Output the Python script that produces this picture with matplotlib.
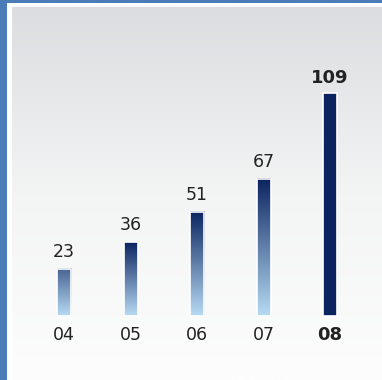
import matplotlib.pyplot as plt
import matplotlib.colors as mcolors
from matplotlib.patches import Rectangle
import numpy as np

years = ['04', '05', '06', '07', '08']
values = [23, 36, 51, 67, 109]
highlight = [False, False, False, False, True]

W, H = 382, 380
navy = mcolors.to_rgb('#0b2460')
light = mcolors.to_rgb('#b8dbf4')


def main():
    fig = plt.figure(figsize=(W / 100, H / 100), dpi=100)
    fig.patch.set_facecolor('#4a7cb8')

    # white frame and grey-to-white panel
    frame = fig.add_axes([7 / W, 0, 1 - 7 / W, 1 - 3 / H])
    frame.set_axis_off()
    frame.add_patch(Rectangle((0, 0), 1, 1, transform=frame.transAxes,
                              facecolor='white', edgecolor='none'))
    panel = fig.add_axes([12 / W, 0, 1 - 12 / W, 1 - 7 / H])
    panel.set_axis_off()
    grad = np.linspace(0, 1, 256).reshape(-1, 1)
    cmap_bg = mcolors.LinearSegmentedColormap.from_list(
        'bg', ['#fdfdfd', '#f3f4f4', '#dcdde0'])
    panel.imshow(grad, aspect='auto', cmap=cmap_bg, origin='lower',
                 extent=[0, 1, 0, 1])
    panel.set_xlim(0, 1)
    panel.set_ylim(0, 1)

    # main axes, full figure, pixel-like scale
    ax = fig.add_axes([0, 0, 1, 1])
    ax.patch.set_alpha(0)
    ax.set_axis_off()
    dx = 66.5
    x0 = 64
    ys = 223 / 109
    y0 = 380 - 316
    ax.set_xlim(-x0 / dx, (W - x0) / dx)
    ax.set_ylim(-y0 / ys, (H - y0) / ys)

    width = 14 / dx
    for i, (yr, v, hl) in enumerate(zip(years, values, highlight)):
        left = i - width / 2
        if hl:
            ax.add_patch(Rectangle((left, 0), width, v, facecolor=navy,
                                   edgecolor='white', linewidth=1.2, zorder=3))
        else:
            t = min(1.0, v / 35)
            top = tuple(light[k] + (navy[k] - light[k]) * t for k in range(3))
            cmap = mcolors.LinearSegmentedColormap.from_list('b', [light, top])
            ax.imshow(grad, aspect='auto', cmap=cmap, origin='lower',
                      extent=[left, left + width, 0, v], zorder=2)
            ax.add_patch(Rectangle((left, 0), width, v, facecolor='none',
                                   edgecolor='white', linewidth=1.2, zorder=3))
        weight = 'bold' if hl else 'normal'
        size = 13 if hl else 12.5
        gap = 10 if hl else 12
        ax.text(i, v + gap / ys, str(v), ha='center', va='baseline',
                fontsize=size, fontweight=weight, color='#222222',
                family='DejaVu Sans')
        ax.text(i, -24 / ys, yr, ha='center', va='baseline', fontsize=size,
                fontweight=weight, color='#222222', family='DejaVu Sans')

    fig.savefig('out.png', dpi=100)


if __name__ == '__main__':
    main()
